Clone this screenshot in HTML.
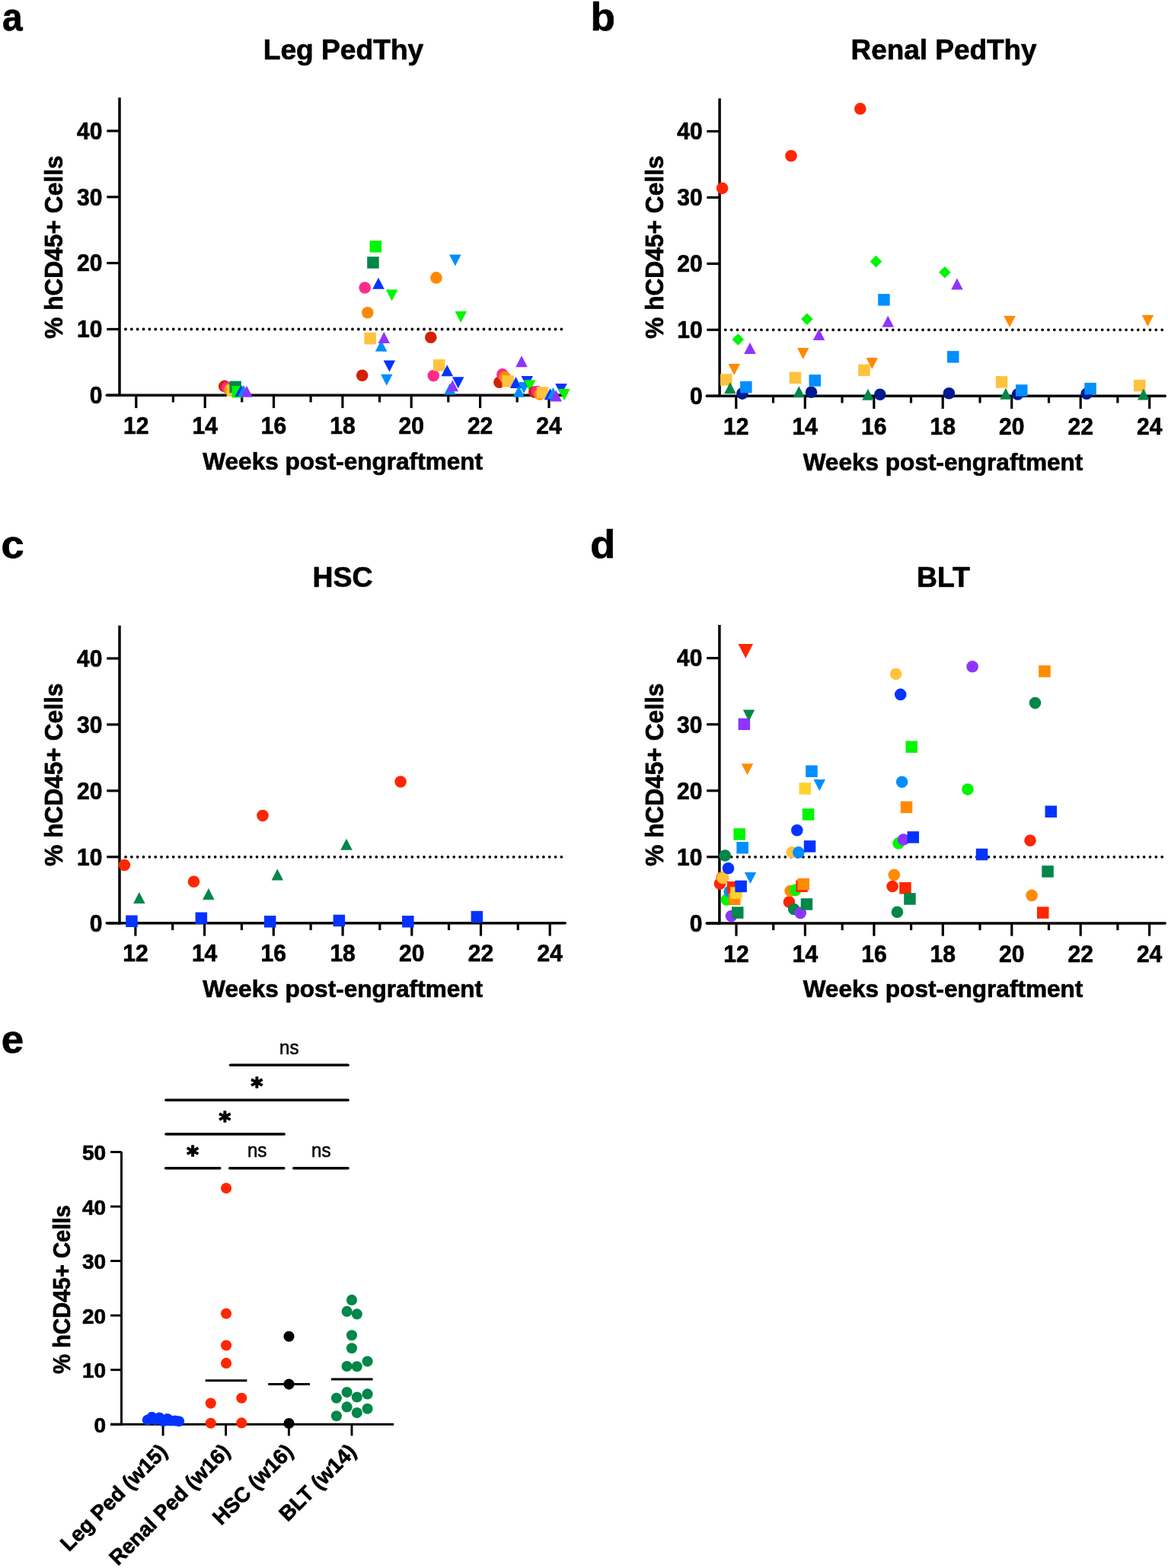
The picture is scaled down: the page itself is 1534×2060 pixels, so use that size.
<!DOCTYPE html>
<html><head><meta charset="utf-8"><title>Figure</title><style>
html,body{margin:0;padding:0;background:#fff;}
svg{display:block;}
text{font-family:"Liberation Sans",Arial,Helvetica,sans-serif;font-weight:bold;fill:#000;stroke:#000;stroke-width:0.7px;stroke-linejoin:round;}
.pl{font-size:53px;}
.ti{font-size:37.4px;}
.xt{font-size:32.2px;}
.yt{font-size:33.5px;}
.yte{font-size:31px;}
.tk{font-size:32px;}
.tke{font-size:28px;}
.cl{font-size:27.5px;}
.ns{font-size:26.2px;font-weight:normal;stroke-width:0.55px;}
.ast{font-size:30px;font-family:"DejaVu Sans",sans-serif;stroke-width:1.5px;}
</style></head><body>
<svg width="1534" height="2060" viewBox="0 0 1534 2060">
<rect width="1534" height="2060" fill="#fff"/>
<text x="3" y="39.6" class="pl" style="font-size:52px" textLength="26.6" lengthAdjust="spacingAndGlyphs">a</text>
<text x="775.5" y="39.8" class="pl" style="font-size:51.2px" textLength="32.5" lengthAdjust="spacingAndGlyphs">b</text>
<text x="1.6" y="732.6" class="pl" style="font-size:52px" textLength="30.2" lengthAdjust="spacingAndGlyphs">c</text>
<text x="775.3" y="732.6" class="pl" style="font-size:51.2px" textLength="33.0" lengthAdjust="spacingAndGlyphs">d</text>
<text x="1.8" y="1383.2" class="pl" style="font-size:52px" textLength="29.4" lengthAdjust="spacingAndGlyphs">e</text>
<text x="451" y="78.3" class="ti" text-anchor="middle" textLength="210.6" lengthAdjust="spacingAndGlyphs">Leg PedThy</text>
<text x="1239.6" y="78.3" class="ti" text-anchor="middle" textLength="244.1" lengthAdjust="spacingAndGlyphs">Renal PedThy</text>
<text x="450.1" y="770.8" class="ti" text-anchor="middle">HSC</text>
<text x="1239" y="770.8" class="ti" text-anchor="middle">BLT</text>
<text x="450.2" y="616.8" class="xt" text-anchor="middle" textLength="367.7" lengthAdjust="spacingAndGlyphs">Weeks post-engraftment</text>
<text x="1238.5" y="617.6" class="xt" text-anchor="middle" textLength="367.7" lengthAdjust="spacingAndGlyphs">Weeks post-engraftment</text>
<text x="450.2" y="1310.2" class="xt" text-anchor="middle" textLength="367.7" lengthAdjust="spacingAndGlyphs">Weeks post-engraftment</text>
<text x="1238.5" y="1310.2" class="xt" text-anchor="middle" textLength="367.7" lengthAdjust="spacingAndGlyphs">Weeks post-engraftment</text>
<text transform="translate(82.4 324.7) rotate(-90)" class="yt" text-anchor="middle" textLength="240.6" lengthAdjust="spacingAndGlyphs">% hCD45+ Cells</text>
<text transform="translate(870.6 324.7) rotate(-90)" class="yt" text-anchor="middle" textLength="240.6" lengthAdjust="spacingAndGlyphs">% hCD45+ Cells</text>
<text transform="translate(82.4 1017.8) rotate(-90)" class="yt" text-anchor="middle" textLength="240.6" lengthAdjust="spacingAndGlyphs">% hCD45+ Cells</text>
<text transform="translate(870.6 1017.8) rotate(-90)" class="yt" text-anchor="middle" textLength="240.6" lengthAdjust="spacingAndGlyphs">% hCD45+ Cells</text>
<line x1="157" y1="128.2" x2="157" y2="521" stroke="#000" stroke-width="3.5"/>
<line x1="140.3" y1="519.3" x2="742.1" y2="519.3" stroke="#000" stroke-width="3.5" stroke-linecap="round"/>
<line x1="140.3" y1="519.3" x2="157" y2="519.3" stroke="#000" stroke-width="3.2"/>
<text x="134.5" y="530.1" class="tk" text-anchor="end" textLength="16.7" lengthAdjust="spacingAndGlyphs">0</text>
<line x1="140.3" y1="432.5" x2="157" y2="432.5" stroke="#000" stroke-width="3.2"/>
<text x="134.5" y="443.3" class="tk" text-anchor="end" textLength="33.4" lengthAdjust="spacingAndGlyphs">10</text>
<line x1="140.3" y1="345.6" x2="157" y2="345.6" stroke="#000" stroke-width="3.2"/>
<text x="134.5" y="356.4" class="tk" text-anchor="end" textLength="33.4" lengthAdjust="spacingAndGlyphs">20</text>
<line x1="140.3" y1="258.8" x2="157" y2="258.8" stroke="#000" stroke-width="3.2"/>
<text x="134.5" y="269.6" class="tk" text-anchor="end" textLength="33.4" lengthAdjust="spacingAndGlyphs">30</text>
<line x1="140.3" y1="172" x2="157" y2="172" stroke="#000" stroke-width="3.2"/>
<text x="134.5" y="182.8" class="tk" text-anchor="end" textLength="33.4" lengthAdjust="spacingAndGlyphs">40</text>
<line x1="178.8" y1="519.3" x2="178.8" y2="536.1" stroke="#000" stroke-width="3.2"/>
<text x="178.8" y="569.9" class="tk" text-anchor="middle" textLength="33.4" lengthAdjust="spacingAndGlyphs">12</text>
<line x1="227.4" y1="519.3" x2="227.4" y2="528.5" stroke="#000" stroke-width="3.2"/>
<line x1="269.2" y1="519.3" x2="269.2" y2="536.1" stroke="#000" stroke-width="3.2"/>
<text x="269.2" y="569.9" class="tk" text-anchor="middle" textLength="33.4" lengthAdjust="spacingAndGlyphs">14</text>
<line x1="317.7" y1="519.3" x2="317.7" y2="528.5" stroke="#000" stroke-width="3.2"/>
<line x1="359.5" y1="519.3" x2="359.5" y2="536.1" stroke="#000" stroke-width="3.2"/>
<text x="359.5" y="569.9" class="tk" text-anchor="middle" textLength="33.4" lengthAdjust="spacingAndGlyphs">16</text>
<line x1="408.1" y1="519.3" x2="408.1" y2="528.5" stroke="#000" stroke-width="3.2"/>
<line x1="449.9" y1="519.3" x2="449.9" y2="536.1" stroke="#000" stroke-width="3.2"/>
<text x="449.9" y="569.9" class="tk" text-anchor="middle" textLength="33.4" lengthAdjust="spacingAndGlyphs">18</text>
<line x1="498.5" y1="519.3" x2="498.5" y2="528.5" stroke="#000" stroke-width="3.2"/>
<line x1="540.2" y1="519.3" x2="540.2" y2="536.1" stroke="#000" stroke-width="3.2"/>
<text x="540.2" y="569.9" class="tk" text-anchor="middle" textLength="33.4" lengthAdjust="spacingAndGlyphs">20</text>
<line x1="588.8" y1="519.3" x2="588.8" y2="528.5" stroke="#000" stroke-width="3.2"/>
<line x1="630.6" y1="519.3" x2="630.6" y2="536.1" stroke="#000" stroke-width="3.2"/>
<text x="630.6" y="569.9" class="tk" text-anchor="middle" textLength="33.4" lengthAdjust="spacingAndGlyphs">22</text>
<line x1="679.2" y1="519.3" x2="679.2" y2="528.5" stroke="#000" stroke-width="3.2"/>
<line x1="721" y1="519.3" x2="721" y2="536.1" stroke="#000" stroke-width="3.2"/>
<text x="721" y="569.9" class="tk" text-anchor="middle" textLength="33.4" lengthAdjust="spacingAndGlyphs">24</text>
<line x1="165" y1="432.5" x2="737.7" y2="432.5" stroke="#000" stroke-width="3.8" stroke-linecap="round" stroke-dasharray="0 7.841"/>
<line x1="945.1" y1="129.3" x2="945.1" y2="522" stroke="#000" stroke-width="3.5"/>
<line x1="928.4" y1="520.3" x2="1530.2" y2="520.3" stroke="#000" stroke-width="3.5" stroke-linecap="round"/>
<line x1="928.4" y1="520.3" x2="945.1" y2="520.3" stroke="#000" stroke-width="3.2"/>
<text x="922.6" y="531.1" class="tk" text-anchor="end" textLength="16.7" lengthAdjust="spacingAndGlyphs">0</text>
<line x1="928.4" y1="433.3" x2="945.1" y2="433.3" stroke="#000" stroke-width="3.2"/>
<text x="922.6" y="444.1" class="tk" text-anchor="end" textLength="33.4" lengthAdjust="spacingAndGlyphs">10</text>
<line x1="928.4" y1="346.4" x2="945.1" y2="346.4" stroke="#000" stroke-width="3.2"/>
<text x="922.6" y="357.2" class="tk" text-anchor="end" textLength="33.4" lengthAdjust="spacingAndGlyphs">20</text>
<line x1="928.4" y1="259.4" x2="945.1" y2="259.4" stroke="#000" stroke-width="3.2"/>
<text x="922.6" y="270.2" class="tk" text-anchor="end" textLength="33.4" lengthAdjust="spacingAndGlyphs">30</text>
<line x1="928.4" y1="172.5" x2="945.1" y2="172.5" stroke="#000" stroke-width="3.2"/>
<text x="922.6" y="183.3" class="tk" text-anchor="end" textLength="33.4" lengthAdjust="spacingAndGlyphs">40</text>
<line x1="966.8" y1="520.3" x2="966.8" y2="537.1" stroke="#000" stroke-width="3.2"/>
<text x="966.8" y="570.9" class="tk" text-anchor="middle" textLength="33.4" lengthAdjust="spacingAndGlyphs">12</text>
<line x1="1015.5" y1="520.3" x2="1015.5" y2="529.5" stroke="#000" stroke-width="3.2"/>
<line x1="1057.3" y1="520.3" x2="1057.3" y2="537.1" stroke="#000" stroke-width="3.2"/>
<text x="1057.3" y="570.9" class="tk" text-anchor="middle" textLength="33.4" lengthAdjust="spacingAndGlyphs">14</text>
<line x1="1106" y1="520.3" x2="1106" y2="529.5" stroke="#000" stroke-width="3.2"/>
<line x1="1147.8" y1="520.3" x2="1147.8" y2="537.1" stroke="#000" stroke-width="3.2"/>
<text x="1147.8" y="570.9" class="tk" text-anchor="middle" textLength="33.4" lengthAdjust="spacingAndGlyphs">16</text>
<line x1="1196.5" y1="520.3" x2="1196.5" y2="529.5" stroke="#000" stroke-width="3.2"/>
<line x1="1238.2" y1="520.3" x2="1238.2" y2="537.1" stroke="#000" stroke-width="3.2"/>
<text x="1238.2" y="570.9" class="tk" text-anchor="middle" textLength="33.4" lengthAdjust="spacingAndGlyphs">18</text>
<line x1="1287" y1="520.3" x2="1287" y2="529.5" stroke="#000" stroke-width="3.2"/>
<line x1="1328.7" y1="520.3" x2="1328.7" y2="537.1" stroke="#000" stroke-width="3.2"/>
<text x="1328.7" y="570.9" class="tk" text-anchor="middle" textLength="33.4" lengthAdjust="spacingAndGlyphs">20</text>
<line x1="1377.5" y1="520.3" x2="1377.5" y2="529.5" stroke="#000" stroke-width="3.2"/>
<line x1="1419.2" y1="520.3" x2="1419.2" y2="537.1" stroke="#000" stroke-width="3.2"/>
<text x="1419.2" y="570.9" class="tk" text-anchor="middle" textLength="33.4" lengthAdjust="spacingAndGlyphs">22</text>
<line x1="1467.9" y1="520.3" x2="1467.9" y2="529.5" stroke="#000" stroke-width="3.2"/>
<line x1="1509.7" y1="520.3" x2="1509.7" y2="537.1" stroke="#000" stroke-width="3.2"/>
<text x="1509.7" y="570.9" class="tk" text-anchor="middle" textLength="33.4" lengthAdjust="spacingAndGlyphs">24</text>
<line x1="952.8" y1="433.3" x2="1526.5" y2="433.3" stroke="#000" stroke-width="3.8" stroke-linecap="round" stroke-dasharray="0 7.855"/>
<line x1="157" y1="821.7" x2="157" y2="1214.5" stroke="#000" stroke-width="3.5"/>
<line x1="140.3" y1="1212.8" x2="742.2" y2="1212.8" stroke="#000" stroke-width="3.5" stroke-linecap="round"/>
<line x1="140.3" y1="1212.8" x2="157" y2="1212.8" stroke="#000" stroke-width="3.2"/>
<text x="134.5" y="1223.6" class="tk" text-anchor="end" textLength="16.7" lengthAdjust="spacingAndGlyphs">0</text>
<line x1="140.3" y1="1125.8" x2="157" y2="1125.8" stroke="#000" stroke-width="3.2"/>
<text x="134.5" y="1136.6" class="tk" text-anchor="end" textLength="33.4" lengthAdjust="spacingAndGlyphs">10</text>
<line x1="140.3" y1="1038.9" x2="157" y2="1038.9" stroke="#000" stroke-width="3.2"/>
<text x="134.5" y="1049.7" class="tk" text-anchor="end" textLength="33.4" lengthAdjust="spacingAndGlyphs">20</text>
<line x1="140.3" y1="951.9" x2="157" y2="951.9" stroke="#000" stroke-width="3.2"/>
<text x="134.5" y="962.7" class="tk" text-anchor="end" textLength="33.4" lengthAdjust="spacingAndGlyphs">30</text>
<line x1="140.3" y1="865" x2="157" y2="865" stroke="#000" stroke-width="3.2"/>
<text x="134.5" y="875.8" class="tk" text-anchor="end" textLength="33.4" lengthAdjust="spacingAndGlyphs">40</text>
<line x1="177.9" y1="1212.8" x2="177.9" y2="1229.6" stroke="#000" stroke-width="3.2"/>
<text x="177.9" y="1263.4" class="tk" text-anchor="middle" textLength="33.4" lengthAdjust="spacingAndGlyphs">12</text>
<line x1="226.7" y1="1212.8" x2="226.7" y2="1222" stroke="#000" stroke-width="3.2"/>
<line x1="268.6" y1="1212.8" x2="268.6" y2="1229.6" stroke="#000" stroke-width="3.2"/>
<text x="268.6" y="1263.4" class="tk" text-anchor="middle" textLength="33.4" lengthAdjust="spacingAndGlyphs">14</text>
<line x1="317.4" y1="1212.8" x2="317.4" y2="1222" stroke="#000" stroke-width="3.2"/>
<line x1="359.3" y1="1212.8" x2="359.3" y2="1229.6" stroke="#000" stroke-width="3.2"/>
<text x="359.3" y="1263.4" class="tk" text-anchor="middle" textLength="33.4" lengthAdjust="spacingAndGlyphs">16</text>
<line x1="408.1" y1="1212.8" x2="408.1" y2="1222" stroke="#000" stroke-width="3.2"/>
<line x1="450.1" y1="1212.8" x2="450.1" y2="1229.6" stroke="#000" stroke-width="3.2"/>
<text x="450.1" y="1263.4" class="tk" text-anchor="middle" textLength="33.4" lengthAdjust="spacingAndGlyphs">18</text>
<line x1="498.8" y1="1212.8" x2="498.8" y2="1222" stroke="#000" stroke-width="3.2"/>
<line x1="540.8" y1="1212.8" x2="540.8" y2="1229.6" stroke="#000" stroke-width="3.2"/>
<text x="540.8" y="1263.4" class="tk" text-anchor="middle" textLength="33.4" lengthAdjust="spacingAndGlyphs">20</text>
<line x1="589.5" y1="1212.8" x2="589.5" y2="1222" stroke="#000" stroke-width="3.2"/>
<line x1="631.5" y1="1212.8" x2="631.5" y2="1229.6" stroke="#000" stroke-width="3.2"/>
<text x="631.5" y="1263.4" class="tk" text-anchor="middle" textLength="33.4" lengthAdjust="spacingAndGlyphs">22</text>
<line x1="680.3" y1="1212.8" x2="680.3" y2="1222" stroke="#000" stroke-width="3.2"/>
<line x1="722.2" y1="1212.8" x2="722.2" y2="1229.6" stroke="#000" stroke-width="3.2"/>
<text x="722.2" y="1263.4" class="tk" text-anchor="middle" textLength="33.4" lengthAdjust="spacingAndGlyphs">24</text>
<line x1="165" y1="1125.8" x2="737.7" y2="1125.8" stroke="#000" stroke-width="3.8" stroke-linecap="round" stroke-dasharray="0 7.841"/>
<line x1="944.9" y1="821.1" x2="944.9" y2="1214.7" stroke="#000" stroke-width="3.5"/>
<line x1="928.2" y1="1212.9" x2="1530.2" y2="1212.9" stroke="#000" stroke-width="3.5" stroke-linecap="round"/>
<line x1="928.2" y1="1212.9" x2="944.9" y2="1212.9" stroke="#000" stroke-width="3.2"/>
<text x="922.4" y="1223.7" class="tk" text-anchor="end" textLength="16.7" lengthAdjust="spacingAndGlyphs">0</text>
<line x1="928.2" y1="1125.8" x2="944.9" y2="1125.8" stroke="#000" stroke-width="3.2"/>
<text x="922.4" y="1136.6" class="tk" text-anchor="end" textLength="33.4" lengthAdjust="spacingAndGlyphs">10</text>
<line x1="928.2" y1="1038.8" x2="944.9" y2="1038.8" stroke="#000" stroke-width="3.2"/>
<text x="922.4" y="1049.5" class="tk" text-anchor="end" textLength="33.4" lengthAdjust="spacingAndGlyphs">20</text>
<line x1="928.2" y1="951.7" x2="944.9" y2="951.7" stroke="#000" stroke-width="3.2"/>
<text x="922.4" y="962.5" class="tk" text-anchor="end" textLength="33.4" lengthAdjust="spacingAndGlyphs">30</text>
<line x1="928.2" y1="864.6" x2="944.9" y2="864.6" stroke="#000" stroke-width="3.2"/>
<text x="922.4" y="875.4" class="tk" text-anchor="end" textLength="33.4" lengthAdjust="spacingAndGlyphs">40</text>
<line x1="967" y1="1212.9" x2="967" y2="1229.7" stroke="#000" stroke-width="3.2"/>
<text x="967" y="1263.5" class="tk" text-anchor="middle" textLength="33.4" lengthAdjust="spacingAndGlyphs">12</text>
<line x1="1015.7" y1="1212.9" x2="1015.7" y2="1222.1" stroke="#000" stroke-width="3.2"/>
<line x1="1057.4" y1="1212.9" x2="1057.4" y2="1229.7" stroke="#000" stroke-width="3.2"/>
<text x="1057.4" y="1263.5" class="tk" text-anchor="middle" textLength="33.4" lengthAdjust="spacingAndGlyphs">14</text>
<line x1="1106.2" y1="1212.9" x2="1106.2" y2="1222.1" stroke="#000" stroke-width="3.2"/>
<line x1="1147.9" y1="1212.9" x2="1147.9" y2="1229.7" stroke="#000" stroke-width="3.2"/>
<text x="1147.9" y="1263.5" class="tk" text-anchor="middle" textLength="33.4" lengthAdjust="spacingAndGlyphs">16</text>
<line x1="1196.6" y1="1212.9" x2="1196.6" y2="1222.1" stroke="#000" stroke-width="3.2"/>
<line x1="1238.3" y1="1212.9" x2="1238.3" y2="1229.7" stroke="#000" stroke-width="3.2"/>
<text x="1238.3" y="1263.5" class="tk" text-anchor="middle" textLength="33.4" lengthAdjust="spacingAndGlyphs">18</text>
<line x1="1287" y1="1212.9" x2="1287" y2="1222.1" stroke="#000" stroke-width="3.2"/>
<line x1="1328.8" y1="1212.9" x2="1328.8" y2="1229.7" stroke="#000" stroke-width="3.2"/>
<text x="1328.8" y="1263.5" class="tk" text-anchor="middle" textLength="33.4" lengthAdjust="spacingAndGlyphs">20</text>
<line x1="1377.5" y1="1212.9" x2="1377.5" y2="1222.1" stroke="#000" stroke-width="3.2"/>
<line x1="1419.2" y1="1212.9" x2="1419.2" y2="1229.7" stroke="#000" stroke-width="3.2"/>
<text x="1419.2" y="1263.5" class="tk" text-anchor="middle" textLength="33.4" lengthAdjust="spacingAndGlyphs">22</text>
<line x1="1467.9" y1="1212.9" x2="1467.9" y2="1222.1" stroke="#000" stroke-width="3.2"/>
<line x1="1509.6" y1="1212.9" x2="1509.6" y2="1229.7" stroke="#000" stroke-width="3.2"/>
<text x="1509.6" y="1263.5" class="tk" text-anchor="middle" textLength="33.4" lengthAdjust="spacingAndGlyphs">24</text>
<line x1="952.8" y1="1125.8" x2="1526.5" y2="1125.8" stroke="#000" stroke-width="3.8" stroke-linecap="round" stroke-dasharray="0 7.855"/>
<circle cx="294.8" cy="507.4" r="7.8" fill="#D22100"/>
<circle cx="298.4" cy="509.3" r="7.8" fill="#FF2A8C"/>
<circle cx="301.8" cy="511.7" r="7.8" fill="#FF8A00"/>
<rect x="297.6" y="505.5" width="15.5" height="15.5" fill="#FFC23F"/>
<rect x="301.4" y="500.6" width="15.5" height="15.5" fill="#008749"/>
<rect x="304.6" y="507" width="15.5" height="15.5" fill="#00F500"/>
<path d="M316.4 506.1L324.1 521.1L308.6 521.1Z" fill="#0433FF"/>
<path d="M320 505.9L327.8 520.9L312.2 520.9Z" fill="#008EFF"/>
<path d="M324 506.8L331.8 521.8L316.2 521.8Z" fill="#8E34FF"/>
<circle cx="475.7" cy="493.3" r="7.8" fill="#D22100"/>
<circle cx="479.2" cy="378" r="7.8" fill="#FF2A8C"/>
<circle cx="482.8" cy="410.8" r="7.8" fill="#FF8A00"/>
<rect x="478.4" y="436.9" width="15.5" height="15.5" fill="#FFC23F"/>
<rect x="482.2" y="337.2" width="15.5" height="15.5" fill="#008749"/>
<rect x="485.6" y="316.1" width="15.5" height="15.5" fill="#00F500"/>
<path d="M497 364.7L504.8 379.7L489.2 379.7Z" fill="#0433FF"/>
<path d="M500.6 446.7L508.4 461.7L492.9 461.7Z" fill="#008EFF"/>
<path d="M504.3 436.1L512 451.1L496.6 451.1Z" fill="#8E34FF"/>
<path d="M500.1 491.7L515.5 491.7L507.8 506.7Z" fill="#008EFF"/>
<path d="M503.6 473.5L519.1 473.5L511.4 488.5Z" fill="#0433FF"/>
<path d="M506.9 380.6L522.4 380.6L514.6 395.6Z" fill="#00F500"/>
<circle cx="565.8" cy="443.2" r="7.8" fill="#D22100"/>
<circle cx="569.3" cy="493.5" r="7.8" fill="#FF2A8C"/>
<circle cx="572.9" cy="364.9" r="7.8" fill="#FF8A00"/>
<rect x="568.9" y="472.1" width="15.5" height="15.5" fill="#FFC23F"/>
<path d="M587.2 479.3L595 494.3L579.5 494.3Z" fill="#0433FF"/>
<path d="M590.9 503.6L598.6 518.6L583.1 518.6Z" fill="#008EFF"/>
<path d="M594.4 499.3L602.1 514.3L586.6 514.3Z" fill="#8E34FF"/>
<path d="M590.1 334.4L605.6 334.4L597.9 349.4Z" fill="#008EFF"/>
<path d="M594 495.3L609.5 495.3L601.7 510.3Z" fill="#0433FF"/>
<path d="M597.5 409L613 409L605.2 424Z" fill="#00F500"/>
<circle cx="655.9" cy="502.2" r="7.8" fill="#D22100"/>
<circle cx="659.9" cy="491.9" r="7.8" fill="#FF2A8C"/>
<circle cx="663.2" cy="495.6" r="7.8" fill="#FF8A00"/>
<rect x="659.4" y="493.1" width="15.5" height="15.5" fill="#FFC23F"/>
<path d="M677.5 495.1L685.2 510.1L669.8 510.1Z" fill="#0433FF"/>
<path d="M681.4 506.8L689.1 521.8L673.6 521.8Z" fill="#008EFF"/>
<path d="M685 467.3L692.8 482.3L677.2 482.3Z" fill="#8E34FF"/>
<path d="M680.2 501.9L695.8 501.9L688 516.9Z" fill="#008EFF"/>
<path d="M684.5 494.1L700 494.1L692.3 509.1Z" fill="#0433FF"/>
<path d="M688 499.3L703.5 499.3L695.7 514.3Z" fill="#00F500"/>
<circle cx="701.8" cy="515.1" r="7.8" fill="#D22100"/>
<circle cx="705.3" cy="514.6" r="7.8" fill="#FF2A8C"/>
<circle cx="709" cy="518" r="7.8" fill="#FF8A00"/>
<rect x="704.8" y="508.2" width="15.5" height="15.5" fill="#FFC23F"/>
<path d="M722.5 510.3L730.2 525.3L714.8 525.3Z" fill="#0433FF"/>
<path d="M726.4 508.9L734.1 523.9L718.6 523.9Z" fill="#008EFF"/>
<path d="M730.3 512.4L738 527.4L722.5 527.4Z" fill="#8E34FF"/>
<path d="M729.2 504L744.8 504L737 519Z" fill="#0433FF"/>
<path d="M733.1 510.9L748.6 510.9L740.9 525.9Z" fill="#00F500"/>
<circle cx="948.6" cy="247.3" r="7.8" fill="#FF2600"/>
<rect x="946" y="491.1" width="15.5" height="15.5" fill="#FFC23F"/>
<path d="M958.9 502.2L966.6 517.2L951.1 517.2Z" fill="#008749"/>
<path d="M956.5 478.1L972 478.1L964.2 493.1Z" fill="#FF8A00"/>
<path d="M969.3 438.2L977.1 446L969.3 453.8L961.5 446Z" fill="#00F500"/>
<circle cx="974.9" cy="517.1" r="7.8" fill="#001890"/>
<rect x="972.1" y="500.8" width="15.5" height="15.5" fill="#008EFF"/>
<path d="M985 450L992.8 465L977.2 465Z" fill="#8E34FF"/>
<circle cx="1039" cy="204.8" r="7.8" fill="#FF2600"/>
<rect x="1036.7" y="488.6" width="15.5" height="15.5" fill="#FFC23F"/>
<path d="M1049.3 507.2L1057 522.2L1041.5 522.2Z" fill="#008749"/>
<path d="M1047 457L1062.5 457L1054.7 472Z" fill="#FF8A00"/>
<path d="M1059.9 411.5L1067.7 419.3L1059.9 427.1L1052.1 419.3Z" fill="#00F500"/>
<circle cx="1065.5" cy="515.2" r="7.8" fill="#001890"/>
<rect x="1062.5" y="492.1" width="15.5" height="15.5" fill="#008EFF"/>
<path d="M1075.6 432.1L1083.3 447.1L1067.8 447.1Z" fill="#8E34FF"/>
<circle cx="1129.8" cy="142.9" r="7.8" fill="#FF2600"/>
<rect x="1127.2" y="478.6" width="15.5" height="15.5" fill="#FFC23F"/>
<path d="M1140 510.7L1147.8 525.7L1132.2 525.7Z" fill="#008749"/>
<path d="M1137.5 470.1L1153 470.1L1145.3 485.1Z" fill="#FF8A00"/>
<path d="M1150.5 335.8L1158.3 343.6L1150.5 351.4L1142.7 343.6Z" fill="#00F500"/>
<circle cx="1155.8" cy="518.3" r="7.8" fill="#001890"/>
<rect x="1153.2" y="386.1" width="15.5" height="15.5" fill="#008EFF"/>
<path d="M1166.2 414.8L1174 429.8L1158.5 429.8Z" fill="#8E34FF"/>
<path d="M1240.9 350L1248.7 357.8L1240.9 365.6L1233.1 357.8Z" fill="#00F500"/>
<circle cx="1246.4" cy="516.7" r="7.8" fill="#001890"/>
<rect x="1244" y="461.1" width="15.5" height="15.5" fill="#008EFF"/>
<path d="M1256.9 365.4L1264.7 380.4L1249.2 380.4Z" fill="#8E34FF"/>
<rect x="1307.8" y="494.1" width="15.5" height="15.5" fill="#FFC23F"/>
<path d="M1320.9 509.7L1328.7 524.7L1313.2 524.7Z" fill="#008749"/>
<path d="M1318.2 414.9L1333.8 414.9L1326 429.9Z" fill="#FF8A00"/>
<circle cx="1336.6" cy="518" r="7.8" fill="#001890"/>
<rect x="1334" y="505.2" width="15.5" height="15.5" fill="#008EFF"/>
<circle cx="1427.1" cy="517.2" r="7.8" fill="#001890"/>
<rect x="1424.3" y="502.9" width="15.5" height="15.5" fill="#008EFF"/>
<rect x="1489" y="498.8" width="15.5" height="15.5" fill="#FFC23F"/>
<path d="M1501.8 510.5L1509.5 525.5L1494 525.5Z" fill="#008749"/>
<path d="M1499.7 414.1L1515.2 414.1L1507.4 429.1Z" fill="#FF8A00"/>
<circle cx="163.4" cy="1136.5" r="7.8" fill="#FF2600"/>
<rect x="165.2" y="1202.5" width="15.5" height="15.5" fill="#0433FF"/>
<path d="M182.8 1172.1L190.6 1187.1L175.1 1187.1Z" fill="#008749"/>
<circle cx="254.5" cy="1158.2" r="7.8" fill="#FF2600"/>
<rect x="256.6" y="1198.5" width="15.5" height="15.5" fill="#0433FF"/>
<path d="M273.9 1167.1L281.6 1182.1L266.1 1182.1Z" fill="#008749"/>
<circle cx="345" cy="1071.6" r="7.8" fill="#FF2600"/>
<rect x="346.9" y="1203" width="15.5" height="15.5" fill="#0433FF"/>
<path d="M364.3 1141.4L372.1 1156.4L356.6 1156.4Z" fill="#008749"/>
<rect x="437.6" y="1201.7" width="15.5" height="15.5" fill="#0433FF"/>
<path d="M455 1101.8L462.8 1116.8L447.2 1116.8Z" fill="#008749"/>
<circle cx="526.1" cy="1027" r="7.8" fill="#FF2600"/>
<rect x="528.1" y="1203" width="15.5" height="15.5" fill="#0433FF"/>
<rect x="618.6" y="1196.8" width="15.5" height="15.5" fill="#0433FF"/>
<circle cx="945.5" cy="1161" r="7.8" fill="#FF2600"/>
<circle cx="948" cy="1152.8" r="7.8" fill="#FF8A00"/>
<circle cx="949.8" cy="1153.6" r="7.8" fill="#FFC23F"/>
<circle cx="952.2" cy="1124" r="7.8" fill="#008749"/>
<circle cx="954.4" cy="1182" r="7.8" fill="#00F500"/>
<circle cx="956.5" cy="1140.8" r="7.8" fill="#0433FF"/>
<circle cx="958.2" cy="1171.2" r="7.8" fill="#008EFF"/>
<circle cx="960.5" cy="1203.5" r="7.8" fill="#8E34FF"/>
<rect x="954.8" y="1158" width="15.5" height="15.5" fill="#FF2600"/>
<rect x="957" y="1173.5" width="15.5" height="15.5" fill="#FF8A00"/>
<rect x="959.2" y="1165.3" width="15.5" height="15.5" fill="#FFD12F"/>
<rect x="961" y="1191.3" width="15.5" height="15.5" fill="#008749"/>
<rect x="963.4" y="1088.2" width="15.5" height="15.5" fill="#00F500"/>
<rect x="965.4" y="1156.7" width="15.5" height="15.5" fill="#0433FF"/>
<rect x="967.4" y="1106" width="15.5" height="15.5" fill="#008EFF"/>
<rect x="969.6" y="943.6" width="15.5" height="15.5" fill="#8E34FF"/>
<path d="M969.5 846L989.1 846L979.3 865Z" fill="#FF2600"/>
<path d="M973.8 1003.2L989.2 1003.2L981.5 1018.2Z" fill="#FF8A00"/>
<path d="M975.8 932.4L991.2 932.4L983.5 947.4Z" fill="#008749"/>
<path d="M977.8 1146.1L993.2 1146.1L985.5 1161.1Z" fill="#008EFF"/>
<circle cx="1036.4" cy="1185.1" r="7.8" fill="#FF2600"/>
<circle cx="1038.1" cy="1170.5" r="7.8" fill="#FF8A00"/>
<circle cx="1040.3" cy="1119.7" r="7.8" fill="#FFC23F"/>
<circle cx="1042.7" cy="1194.5" r="7.8" fill="#008749"/>
<circle cx="1044.6" cy="1169.4" r="7.8" fill="#00F500"/>
<circle cx="1046.8" cy="1090.8" r="7.8" fill="#0433FF"/>
<circle cx="1048.8" cy="1119.9" r="7.8" fill="#008EFF"/>
<circle cx="1051.2" cy="1199.4" r="7.8" fill="#8E34FF"/>
<rect x="1045.3" y="1156.5" width="15.5" height="15.5" fill="#FF2600"/>
<rect x="1047.5" y="1153.8" width="15.5" height="15.5" fill="#FF8A00"/>
<rect x="1049.5" y="1028.2" width="15.5" height="15.5" fill="#FFD12F"/>
<rect x="1051.7" y="1180.2" width="15.5" height="15.5" fill="#008749"/>
<rect x="1053.8" y="1062.2" width="15.5" height="15.5" fill="#00F500"/>
<rect x="1055.8" y="1104.2" width="15.5" height="15.5" fill="#0433FF"/>
<rect x="1058.2" y="1005.5" width="15.5" height="15.5" fill="#008EFF"/>
<path d="M1068.5 1024L1084 1024L1076.3 1039Z" fill="#008EFF"/>
<circle cx="1172.1" cy="1164.5" r="7.8" fill="#FF2600"/>
<circle cx="1174.3" cy="1149.4" r="7.8" fill="#FF8A00"/>
<circle cx="1176.6" cy="885.5" r="7.8" fill="#FFC23F"/>
<circle cx="1178.4" cy="1198.2" r="7.8" fill="#008749"/>
<circle cx="1180.1" cy="1107.9" r="7.8" fill="#00F500"/>
<circle cx="1182.7" cy="912.4" r="7.8" fill="#0433FF"/>
<circle cx="1184.6" cy="1027.3" r="7.8" fill="#008EFF"/>
<circle cx="1186.5" cy="1103" r="7.8" fill="#8E34FF"/>
<rect x="1181.2" y="1159" width="15.5" height="15.5" fill="#FF2600"/>
<rect x="1182.8" y="1052.7" width="15.5" height="15.5" fill="#FF8A00"/>
<rect x="1187.2" y="1173.2" width="15.5" height="15.5" fill="#008749"/>
<rect x="1189.5" y="973.5" width="15.5" height="15.5" fill="#00F500"/>
<rect x="1191.5" y="1092.2" width="15.5" height="15.5" fill="#0433FF"/>
<circle cx="1270.9" cy="1037" r="7.8" fill="#00F500"/>
<circle cx="1277.1" cy="875.8" r="7.8" fill="#8E34FF"/>
<rect x="1281.8" y="1114.8" width="15.5" height="15.5" fill="#0433FF"/>
<circle cx="1353" cy="1104.2" r="7.8" fill="#FF2600"/>
<circle cx="1355.1" cy="1176.4" r="7.8" fill="#FF8A00"/>
<circle cx="1359.5" cy="923.6" r="7.8" fill="#008749"/>
<rect x="1362" y="1191.3" width="15.5" height="15.5" fill="#FF2600"/>
<rect x="1364.2" y="874.2" width="15.5" height="15.5" fill="#FF8A00"/>
<rect x="1368.3" y="1137.2" width="15.5" height="15.5" fill="#008749"/>
<rect x="1372.5" y="1058.5" width="15.5" height="15.5" fill="#0433FF"/>
<line x1="159.5" y1="1512.9" x2="159.5" y2="1872.7" stroke="#000" stroke-width="2.9"/>
<line x1="145.1" y1="1871.3" x2="517.2" y2="1871.3" stroke="#000" stroke-width="2.9"/>
<line x1="145.1" y1="1871.3" x2="159.5" y2="1871.3" stroke="#000" stroke-width="2.9"/>
<text x="139.2" y="1881.9" class="tke" text-anchor="end">0</text>
<line x1="145.1" y1="1799.7" x2="159.5" y2="1799.7" stroke="#000" stroke-width="2.9"/>
<text x="139.2" y="1810.3" class="tke" text-anchor="end">10</text>
<line x1="145.1" y1="1728.2" x2="159.5" y2="1728.2" stroke="#000" stroke-width="2.9"/>
<text x="139.2" y="1738.8" class="tke" text-anchor="end">20</text>
<line x1="145.1" y1="1656.6" x2="159.5" y2="1656.6" stroke="#000" stroke-width="2.9"/>
<text x="139.2" y="1667.2" class="tke" text-anchor="end">30</text>
<line x1="145.1" y1="1585.1" x2="159.5" y2="1585.1" stroke="#000" stroke-width="2.9"/>
<text x="139.2" y="1595.7" class="tke" text-anchor="end">40</text>
<line x1="145.1" y1="1513.5" x2="159.5" y2="1513.5" stroke="#000" stroke-width="2.9"/>
<text x="139.2" y="1524.1" class="tke" text-anchor="end">50</text>
<line x1="214.1" y1="1871.3" x2="214.1" y2="1886.3" stroke="#000" stroke-width="2.9"/>
<line x1="296.6" y1="1871.3" x2="296.6" y2="1886.3" stroke="#000" stroke-width="2.9"/>
<line x1="379.4" y1="1871.3" x2="379.4" y2="1886.3" stroke="#000" stroke-width="2.9"/>
<line x1="462" y1="1871.3" x2="462" y2="1886.3" stroke="#000" stroke-width="2.9"/>
<text transform="translate(221.3 1908.6) rotate(-45)" class="cl" text-anchor="end">Leg Ped (w15)</text>
<text transform="translate(303.8 1908.6) rotate(-45)" class="cl" text-anchor="end">Renal Ped (w16)</text>
<text transform="translate(386.6 1908.6) rotate(-45)" class="cl" text-anchor="end">HSC (w16)</text>
<text transform="translate(469.2 1908.6) rotate(-45)" class="cl" text-anchor="end">BLT (w14)</text>
<text transform="translate(91.6 1694.1) rotate(-90)" class="yte" text-anchor="middle" textLength="222" lengthAdjust="spacingAndGlyphs">% hCD45+ Cells</text>
<circle cx="193.9" cy="1865.5" r="7.05" fill="#0433FF"/>
<circle cx="199.4" cy="1861.9" r="7.05" fill="#0433FF"/>
<circle cx="204.5" cy="1865" r="7.05" fill="#0433FF"/>
<circle cx="209.3" cy="1862.6" r="7.05" fill="#0433FF"/>
<circle cx="214.3" cy="1867.3" r="7.05" fill="#0433FF"/>
<circle cx="219.8" cy="1864" r="7.05" fill="#0433FF"/>
<circle cx="224.7" cy="1866.5" r="7.05" fill="#0433FF"/>
<circle cx="229.8" cy="1866.5" r="7.05" fill="#0433FF"/>
<circle cx="235" cy="1867.3" r="7.05" fill="#0433FF"/>
<circle cx="297.1" cy="1561" r="7.05" fill="#FF2600"/>
<circle cx="297.1" cy="1725.8" r="7.05" fill="#FF2600"/>
<circle cx="297.1" cy="1767.5" r="7.05" fill="#FF2600"/>
<circle cx="297.1" cy="1790.9" r="7.05" fill="#FF2600"/>
<circle cx="276.8" cy="1843.6" r="7.05" fill="#FF2600"/>
<circle cx="317.3" cy="1836.8" r="7.05" fill="#FF2600"/>
<circle cx="276.8" cy="1869.7" r="7.05" fill="#FF2600"/>
<circle cx="317.3" cy="1869.4" r="7.05" fill="#FF2600"/>
<circle cx="379.5" cy="1755.8" r="7.05" fill="#000"/>
<circle cx="379.5" cy="1818.6" r="7.05" fill="#000"/>
<circle cx="379.5" cy="1870" r="7.05" fill="#000"/>
<circle cx="462" cy="1707.9" r="7.05" fill="#008749"/>
<circle cx="455.6" cy="1722.9" r="7.05" fill="#008749"/>
<circle cx="468.8" cy="1726.4" r="7.05" fill="#008749"/>
<circle cx="462" cy="1754.3" r="7.05" fill="#008749"/>
<circle cx="462" cy="1771.2" r="7.05" fill="#008749"/>
<circle cx="482.6" cy="1788.6" r="7.05" fill="#008749"/>
<circle cx="455.6" cy="1795" r="7.05" fill="#008749"/>
<circle cx="468.8" cy="1795.3" r="7.05" fill="#008749"/>
<circle cx="455.6" cy="1829.1" r="7.05" fill="#008749"/>
<circle cx="482.6" cy="1831.4" r="7.05" fill="#008749"/>
<circle cx="441.9" cy="1836.7" r="7.05" fill="#008749"/>
<circle cx="468.8" cy="1835.5" r="7.05" fill="#008749"/>
<circle cx="455.6" cy="1848.4" r="7.05" fill="#008749"/>
<circle cx="482.6" cy="1850.8" r="7.05" fill="#008749"/>
<circle cx="468.8" cy="1856.1" r="7.05" fill="#008749"/>
<circle cx="441.9" cy="1860.2" r="7.05" fill="#008749"/>
<line x1="269.7" y1="1813.7" x2="324.4" y2="1813.7" stroke="#000" stroke-width="3"/>
<line x1="352.3" y1="1818.6" x2="406.9" y2="1818.6" stroke="#000" stroke-width="3"/>
<line x1="435.0" y1="1812.1" x2="489.6" y2="1812.1" stroke="#000" stroke-width="3"/>
<line x1="302.6" y1="1399.3" x2="457" y2="1399.3" stroke="#000" stroke-width="3.6" stroke-linecap="round"/>
<line x1="218" y1="1445.2" x2="457" y2="1445.2" stroke="#000" stroke-width="3.6" stroke-linecap="round"/>
<line x1="218" y1="1490" x2="373.2" y2="1490" stroke="#000" stroke-width="3.6" stroke-linecap="round"/>
<line x1="217.6" y1="1534.8" x2="288.8" y2="1534.8" stroke="#000" stroke-width="3.6" stroke-linecap="round"/>
<line x1="301.7" y1="1534.8" x2="372.8" y2="1534.8" stroke="#000" stroke-width="3.6" stroke-linecap="round"/>
<line x1="385.8" y1="1534.8" x2="457" y2="1534.8" stroke="#000" stroke-width="3.6" stroke-linecap="round"/>
<text x="379.9" y="1384.6" class="ns" text-anchor="middle" textLength="25.6" lengthAdjust="spacingAndGlyphs">ns</text>
<text x="337.7" y="1520" class="ns" text-anchor="middle" textLength="25.6" lengthAdjust="spacingAndGlyphs">ns</text>
<text x="421.9" y="1520" class="ns" text-anchor="middle" textLength="25.6" lengthAdjust="spacingAndGlyphs">ns</text>
<text x="337.4" y="1437.1" class="ast" text-anchor="middle">*</text>
<text x="295.4" y="1482.2" class="ast" text-anchor="middle">*</text>
<text x="253" y="1527" class="ast" text-anchor="middle">*</text>
</svg>
</body></html>
